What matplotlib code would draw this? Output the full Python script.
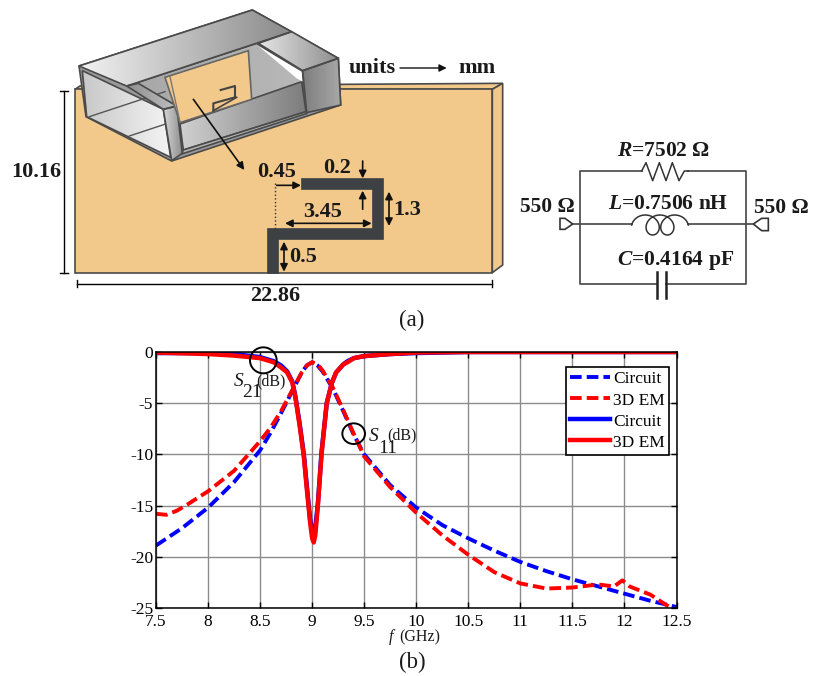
import matplotlib
matplotlib.use('Agg')
import matplotlib.pyplot as plt
import numpy as np
from matplotlib.patches import Polygon, Ellipse
from matplotlib.lines import Line2D

plt.rcParams['font.family'] = ['Liberation Serif', 'DejaVu Serif']
plt.rcParams['mathtext.fontset'] = 'custom'
plt.rcParams['mathtext.rm'] = 'Liberation Serif:bold'
plt.rcParams['mathtext.it'] = 'Liberation Serif:italic:bold'
plt.rcParams['axes.unicode_minus'] = False

# S-parameters
f_s11_circuit = [7.5, 7.75, 8, 8.25, 8.5, 8.6, 8.7, 8.8, 8.9, 8.95, 9, 9.05, 9.1, 9.2, 9.3, 9.4, 9.5, 9.75, 10, 10.25, 10.5, 10.75, 11, 11.25, 11.5, 11.75, 12, 12.25, 12.5]
s11_circuit   = [-18.9, -17.2, -15.2, -12.7, -9.6, -7.9, -6.0, -4.0, -2.0, -1.3, -1.0, -1.3, -1.9, -3.6, -5.8, -8.1, -10.0, -13.0, -15.2, -16.9, -18.2, -19.4, -20.5, -21.4, -22.2, -22.9, -23.6, -24.3, -24.9]
f_s11_em      = [7.5, 7.6, 7.7, 7.8, 8, 8.25, 8.5, 8.6, 8.7, 8.8, 8.9, 8.95, 9, 9.05, 9.1, 9.2, 9.3, 9.4, 9.5, 9.75, 10, 10.25, 10.5, 10.75, 11, 11.25, 11.5, 11.75, 11.9, 11.98, 12.05, 12.25, 12.4, 12.46]
s11_em        = [-15.8, -15.9, -15.5, -14.9, -13.6, -11.6, -8.7, -7.4, -5.8, -3.9, -2.0, -1.3, -1.0, -1.2, -1.8, -3.5, -5.7, -8.0, -10.2, -13.2, -15.7, -17.9, -19.8, -21.5, -22.6, -23.1, -23.0, -22.7, -22.9, -22.3, -22.9, -23.7, -24.7, -25.0]
f_s21       = [7.5, 8, 8.25, 8.5, 8.63, 8.7, 8.76, 8.81, 8.84, 8.88, 8.92, 8.95, 8.98, 9.0, 9.015, 9.03, 9.055, 9.09, 9.14, 9.19, 9.23, 9.3, 9.34, 9.4, 9.5, 9.75, 10, 10.5, 11, 12, 12.5]
s21_circuit = [-0.1, -0.1, -0.2, -0.5, -0.9, -1.3, -1.9, -2.9, -4.4, -7.0, -10.0, -13.2, -16.3, -17.5, -17.8, -17.2, -14.8, -9.8, -5.0, -3.0, -2.0, -1.2, -0.9, -0.6, -0.4, -0.2, -0.1, 0, 0, 0, 0]
s21_em      = [-0.05, -0.2, -0.35, -0.6, -1.0, -1.5, -2.0, -3.0, -4.5, -7.2, -10.2, -13.5, -16.6, -18.2, -18.6, -17.9, -15.0, -10.0, -5.0, -3.0, -2.0, -1.2, -1.0, -0.6, -0.4, -0.2, -0.05, 0, 0, 0, 0]
x_ticks = [7.5, 8, 8.5, 9, 9.5, 10, 10.5, 11, 11.5, 12, 12.5]
x_tick_labels = ['7.5', '8', '8.5', '9', '9.5', '10', '10.5', '11', '11.5', '12', '12.5']
y_ticks = [0, -5, -10, -15, -20, -25]

W, H = 813, 676
TAN = '#f2c98b'
DARK = '#3d4144'
EDGE = '#4a4a4a'

fig = plt.figure(figsize=(W/100, H/100), dpi=100)

# chart (b)
ax = fig.add_axes([156/W, 1-608/H, 520.5/W, 256/H])
ax.plot(f_s11_circuit, s11_circuit, color='#0000ff', lw=2.8, dashes=(3.0, 1.3), label='Circuit')
ax.plot(f_s11_em, s11_em, color='#ff0000', lw=2.8, dashes=(3.0, 1.3), label='3D EM')
ax.plot(f_s21, s21_circuit, color='#0000ff', lw=3.2, label='Circuit')
ax.plot(f_s21, s21_em, color='#ff0000', lw=3.2, label='3D EM')
ax.set_xlim(7.5, 12.5)
ax.set_ylim(-25, 0)
ax.set_xticks(x_ticks)
ax.set_xticklabels(x_tick_labels)
ax.set_yticks(y_ticks)
ax.grid(True, color='#8c8c8c', lw=1)
ax.set_axisbelow(True)
ax.tick_params(direction='in', top=True, right=True, labelsize=12.5, length=4, width=1, pad=4, color='black')
ax.tick_params(axis='y', pad=2)
for s in ax.spines.values():
    s.set_linewidth(1.1)
leg = ax.legend(loc='upper left', bbox_to_anchor=((566-156)/520.5, (608-367)/256), fontsize=12.5, fancybox=False, framealpha=1,
                edgecolor='black', borderpad=0.25, labelspacing=0.28, handlelength=2.3, handletextpad=0.15, borderaxespad=0)
leg.get_frame().set_linewidth(1.2)

# overlay in 3x pixel coordinates for the drawings
ov = fig.add_axes([0, 0, 1, 1], facecolor='none')
ov.set_xlim(0, W*3)
ov.set_ylim(H*3, 0)
ov.axis('off')

def poly(pts, fc, ec=EDGE, lw=1.2, z=2):
    p = Polygon(pts, closed=True, fc=fc, ec=ec, lw=lw, zorder=z)
    ov.add_patch(p)
    return p

def grad(pts, c0, c1, z=2, ec=EDGE, lw=1.2):
    # horizontal gradient clipped to a polygon
    pts = np.array(pts, dtype=float)
    p = Polygon(pts, closed=True, fc='none', ec=ec, lw=lw, zorder=z+0.1)
    ov.add_patch(p)
    g = np.linspace(0, 1, 64).reshape(1, -1, 1)
    a0 = np.array(matplotlib.colors.to_rgb(c0)).reshape(1, 1, 3)
    a1 = np.array(matplotlib.colors.to_rgb(c1)).reshape(1, 1, 3)
    im = ov.imshow(a0*(1-g)+a1*g, extent=[pts[:, 0].min(), pts[:, 0].max(), pts[:, 1].max(), pts[:, 1].min()],
                   aspect='auto', zorder=z, interpolation='bilinear')
    im.set_clip_path(p)

def line(xs, ys, c='black', lw=1.0, z=6, **kw):
    ov.add_line(Line2D(xs, ys, color=c, lw=lw, zorder=z, **kw))

def arrow(x0, y0, x1, y1, z=7, lw=1.2, both=False):
    st = '<|-|>' if both else '-|>'
    ov.annotate('', xy=(x1, y1), xytext=(x0, y0), zorder=z,
                arrowprops=dict(arrowstyle=st, color='#111111', lw=lw, shrinkA=0, shrinkB=0, mutation_scale=11))

def label(x, y, s, size=15, bold=True, **kw):
    ov.text(x, y, s, fontsize=size, fontweight='bold' if bold else 'normal', ha=kw.pop('ha', 'center'), va='center', color='#1a1a1a', zorder=9, **kw)

# board
poly([(225, 268), (240, 258), (1508, 250), (1477, 268)], TAN, z=1)
poly([(1477, 268), (1508, 250), (1508, 795), (1477, 818)], TAN, z=1)
poly([(225, 268), (1477, 268), (1477, 818), (225, 818)], TAN, z=1)

# waveguide
poly([(237, 198), (757, 30), (1015, 175), (1022, 315), (515, 483), (258, 350)], '#9a9a9a', z=2)
grad([(247, 212), (490, 328), (512, 472), (260, 350)], '#c8c8c8', '#f4f4f4', z=3)
line([268, 495], [350, 275], c='#555555', z=3.5)
line([388, 497], [408, 372], c='#555555', z=3.5)
# back wall and floor of the guide
grad([(405, 250), (770, 130), (905, 215), (915, 335), (550, 450), (535, 320)], '#a8a8a8', '#b8b8b8', z=3)
grad([(540, 372), (905, 245), (918, 335), (550, 450)], '#d0d0d0', '#7c7c7c', z=3.3)
poly([(775, 138), (905, 215), (908, 245), (890, 235)], 'white', ec='none', z=3.5)
grad([(237, 198), (757, 30), (875, 95), (380, 258)], '#f2f2f2', '#8a8a8a', z=4)
grad([(775, 130), (875, 95), (1015, 175), (908, 212)], '#e6e6e6', '#8f8f8f', z=4)
grad([(908, 212), (1015, 175), (1022, 315), (920, 338)], '#7e7e7e', '#a8a8a8', z=4)
grad([(380, 258), (415, 250), (530, 318), (490, 328)], '#8f8f8f', '#c0c0c0', z=4)
grad([(490, 328), (530, 318), (547, 460), (515, 482)], '#d8d8d8', '#8f8f8f', z=4)
poly([(550, 450), (918, 335), (922, 340), (545, 462)], '#b5b5b5', z=4)
poly([(495, 232), (745, 152), (755, 298), (540, 368)], TAN, ec='#666666', z=5)
line([510, 540], [230, 366], c='#777777', z=5.2)
line([640, 640, 705, 705, 662], [332, 310, 292, 258, 270], c='#444444', lw=1.5, z=5.2)
line([640, 710], [332, 292], c='#444444', lw=1.2, z=5.2)
arrow(580, 298, 733, 510, lw=1.2)

# z-shaped strip on the board
poly([(905, 537), (1150, 537), (1150, 718), (835, 718), (835, 818), (805, 818), (805, 686), (1118, 686), (1118, 568), (905, 568)], DARK, ec=DARK, z=5)
line([824, 824], [550, 686], c='#333333', lw=1, ls=':')

# dimensions
line([192, 192], [272, 818], lw=1.0)
line([180, 204], [272, 272], lw=1.0)
line([180, 204], [818, 818], lw=1.0)
line([230, 1475], [851, 851], lw=1.0)
line([230, 230], [840, 860], lw=1.0)
line([1475, 1475], [840, 860], lw=1.0)
arrow(830, 556, 903, 556)
arrow(1088, 483, 1088, 535)
arrow(1088, 628, 1088, 572)
arrow(855, 670, 1115, 670, both=True)
arrow(1167, 575, 1167, 678, both=True)
arrow(852, 725, 852, 815, both=True)
arrow(1200, 204, 1340, 204, lw=1.0)
label(110, 516, '10.16', size=16)
label(829, 517, '0.45', size=16)
label(1011, 505, '0.2', size=16)
label(967, 635, '3.45', size=16)
label(1221, 630, '1.3', size=16)
label(909, 770, '0.5', size=16)
label(826, 887, '22.86', size=16)
label(1117, 204, 'units', size=16)
label(1431, 204, 'mm', size=16)
label(1236, 962, '(a)', size=16.5, bold=False)
label(1236, 1986, '(b)', size=16.5, bold=False)

# equivalent circuit, zoom coordinates shifted by (1500, 360)
cx, cy = 1500, 360
line(np.array([425, 240, 240, 470])+cx, np.array([153, 153, 493, 493])+cy, c='#444444', lw=1.2)
line(np.array([565, 738, 738, 498])+cx, np.array([153, 153, 493, 493])+cy, c='#444444', lw=1.2)
line(np.array([425, 438, 458, 478, 498, 517, 537, 553, 565])+cx, np.array([153, 128, 182, 128, 182, 128, 182, 153, 153])+cy, c='#333333', lw=1.1)
line(np.array([215, 395])+cx, np.array([312, 312])+cy, c='#444444', lw=1.2)
line(np.array([565, 760])+cx, np.array([312, 312])+cy, c='#444444', lw=1.2)
t = np.linspace(-np.pi/2, 4*np.pi+np.pi/2, 200)
line(395 + 7*(t+np.pi/2) + 30*(np.sin(t)+1) + cx, 315 - 30*np.cos(t) + cy, c='#333333', lw=1.1)
line(np.array([472, 472])+cx, np.array([455, 535])+cy, c='#222222', lw=1.8)
line(np.array([498, 498])+cx, np.array([455, 535])+cy, c='#222222', lw=1.8)
poly(np.array([(180, 295), (195, 295), (218, 312), (195, 328), (180, 328)])+[cx, cy], 'none', ec='#333333', z=6)
poly(np.array([(805, 295), (785, 295), (760, 312), (785, 332), (805, 332)])+[cx, cy], 'none', ec='#333333', z=6)
label(490+cx, 92+cy, r'$\mathit{R}$=7502 Ω', size=15.5)
label(505+cx, 252+cy, r'$\mathit{L}$=0.7506 nH', size=15.5)
label(528+cx, 420+cy, r'$\mathit{C}$=0.4164 pF', size=15.5)
label(143+cx, 262+cy, '550 Ω', size=15.5)
label(845+cx, 265+cy, '550 Ω', size=15.5)

# annotations on the chart
ov.add_patch(Ellipse((790, 1081), 80, 78, fc='none', ec='black', lw=1.4, zorder=8))
ov.add_patch(Ellipse((1061, 1301), 68, 62, fc='none', ec='black', lw=1.4, zorder=8))
label(716, 1143, 'S', size=14, bold=False, style='italic')
label(757, 1178, '21', size=14, bold=False)
label(813, 1145, '(dB)', size=11.5, bold=False)
label(1122, 1310, 'S', size=14, bold=False, style='italic')
label(1163, 1346, '11', size=14, bold=False)
label(1207, 1305, '(dB)', size=11.5, bold=False)
label(1173, 1912, 'f', size=11.5, bold=False, style='italic')
label(1258, 1912, '(GHz)', size=11.5, bold=False)

fig.savefig('out.png', dpi=100)
